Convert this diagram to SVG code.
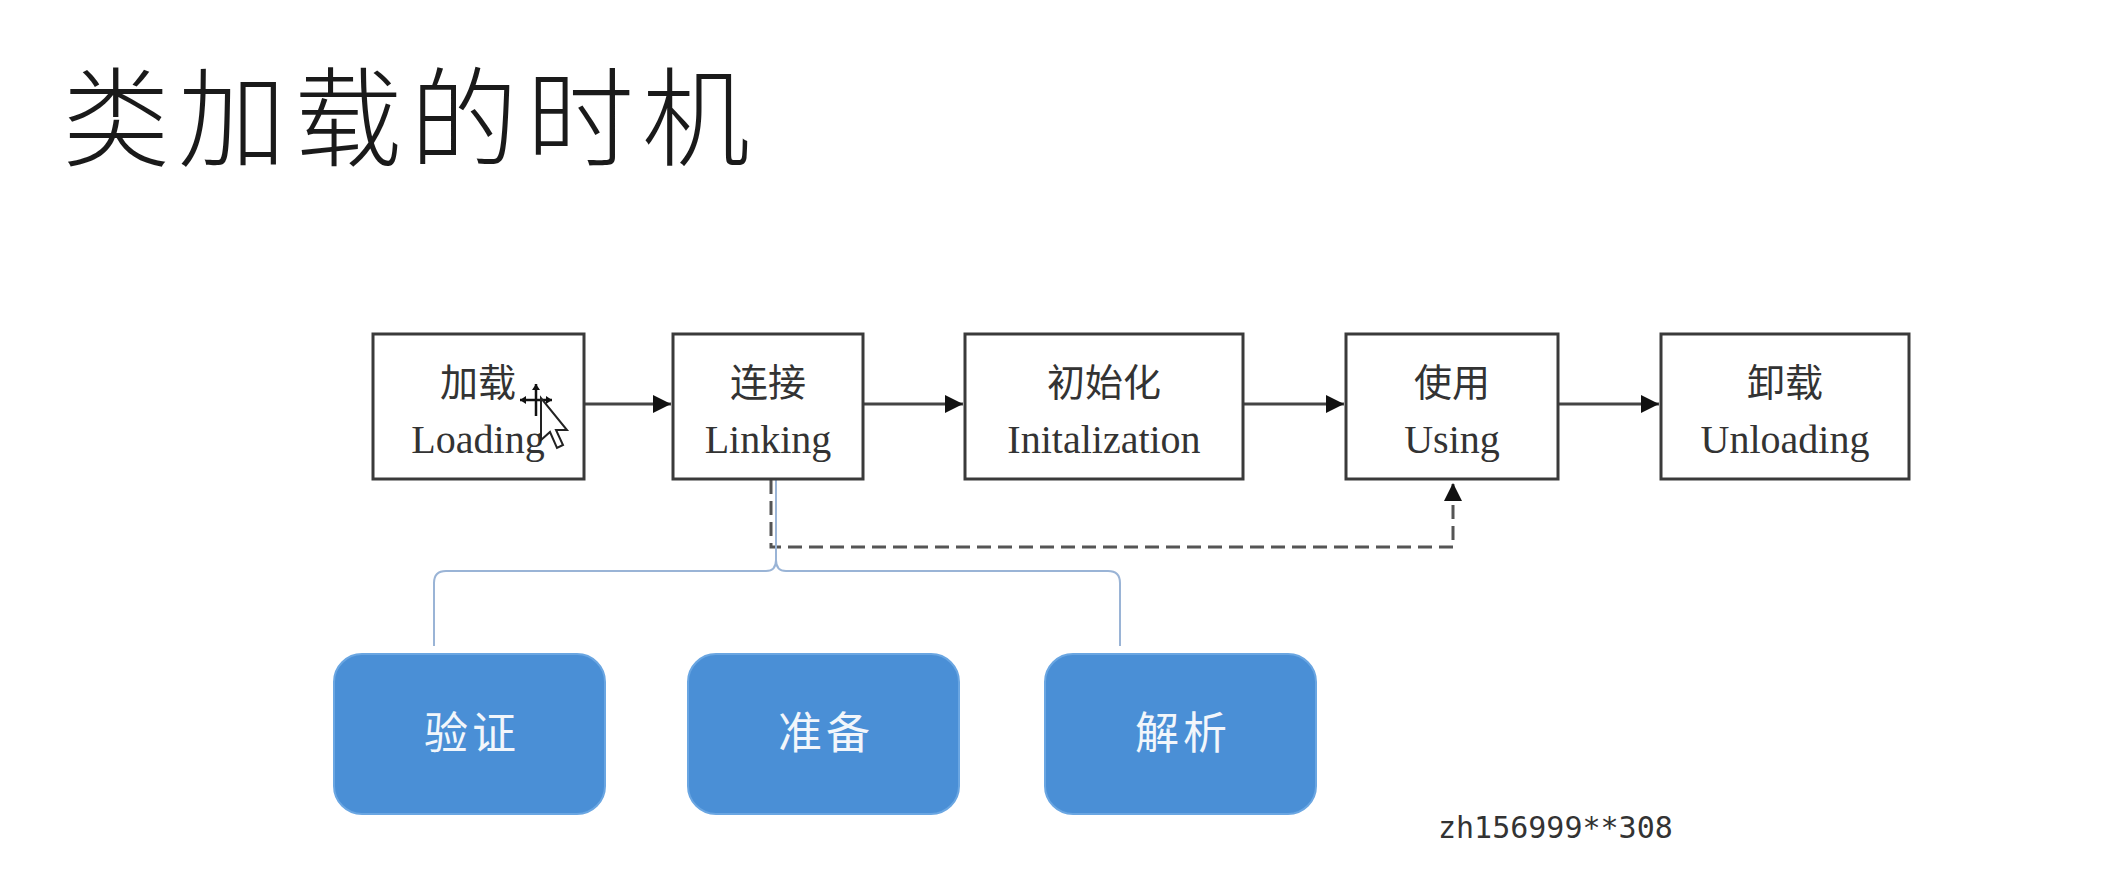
<svg xmlns="http://www.w3.org/2000/svg" width="2128" height="890" viewBox="0 0 2128 890">
<style>
.box{fill:#ffffff;stroke:#3a3a3a;stroke-width:3}
.cn{font-family:"Noto Sans CJK SC","Noto Sans CJK JP",sans-serif;font-size:38px;fill:#333;text-anchor:middle}
.en{font-family:"Liberation Serif","DejaVu Serif",serif;font-size:40px;fill:#333;text-anchor:middle}
.blue{fill:#4a8fd6;stroke:#6aa6e2;stroke-width:2}
.bt{font-family:"Noto Sans CJK SC","Noto Sans CJK JP",sans-serif;font-size:44px;fill:#f2f6fb;text-anchor:middle;letter-spacing:4px}
.arr{stroke:#444;stroke-width:3;fill:none}
.dash{stroke:#555;stroke-width:3;fill:none;stroke-dasharray:14 7}
.brace{stroke:#9ab4d6;stroke-width:2;fill:none}
</style>
<defs>
<marker id="ah" viewBox="0 0 10 10" refX="10" refY="5" markerWidth="6" markerHeight="6" orient="auto" markerUnits="strokeWidth">
<path d="M0,0 L10,5 L0,10 z" fill="#111"/>
</marker>
</defs>
<rect width="2128" height="890" fill="#ffffff"/>
<text x="62" y="158" font-family="Noto Sans CJK SC, Noto Sans CJK JP, sans-serif" font-size="108" font-weight="300" letter-spacing="8" fill="#1a1a1a">类加载的时机</text>

<g id="connectors">
<line class="arr" x1="584" y1="404" x2="671" y2="404" marker-end="url(#ah)"/>
<line class="arr" x1="863" y1="404" x2="963" y2="404" marker-end="url(#ah)"/>
<line class="arr" x1="1243" y1="404" x2="1344" y2="404" marker-end="url(#ah)"/>
<line class="arr" x1="1558" y1="404" x2="1659" y2="404" marker-end="url(#ah)"/>
<path class="dash" d="M771,480 V547 H1453 V483" marker-end="url(#ah)"/>
<path class="brace" d="M776,480 V560 Q776,571 766,571 H446 Q434,571 434,583 V646"/>
<path class="brace" d="M776,560 Q776,571 786,571 H1108 Q1120,571 1120,583 V646"/>
</g>

<g id="loading">
<rect class="box" x="373" y="334" width="211" height="145"/>
<text class="cn" x="478" y="396">加载</text>
<text class="en" x="478" y="453">Loading</text>
</g>
<g id="linking">
<rect class="box" x="673" y="334" width="190" height="145"/>
<text class="cn" x="768" y="396">连接</text>
<text class="en" x="768" y="453">Linking</text>
</g>
<g id="init">
<rect class="box" x="965" y="334" width="278" height="145"/>
<text class="cn" x="1104" y="396">初始化</text>
<text class="en" x="1104" y="453">Initalization</text>
</g>
<g id="using">
<rect class="box" x="1346" y="334" width="212" height="145"/>
<text class="cn" x="1452" y="396">使用</text>
<text class="en" x="1452" y="453">Using</text>
</g>
<g id="unloading">
<rect class="box" x="1661" y="334" width="248" height="145"/>
<text class="cn" x="1785" y="396">卸载</text>
<text class="en" x="1785" y="453">Unloading</text>
</g>

<g id="verify">
<rect class="blue" x="334" y="654" width="271" height="160" rx="28"/>
<text class="bt" x="472" y="749">验证</text>
</g>
<g id="prepare">
<rect class="blue" x="688" y="654" width="271" height="160" rx="28"/>
<text class="bt" x="826" y="749">准备</text>
</g>
<g id="resolve">
<rect class="blue" x="1045" y="654" width="271" height="160" rx="28"/>
<text class="bt" x="1183" y="749">解析</text>
</g>

<g id="cursor">
<path d="M520,400 H552 M536,384 V416" stroke="#111" stroke-width="2.5"/>
<path d="M520,400 l6,-4 v8 z M552,400 l-6,-4 v8 z M536,384 l-4,6 h8 z" fill="#111"/>
<path d="M541,398 L541,440 L550,432 L557,448 L563,445 L556,430 L567,430 Z" fill="#fff" stroke="#222" stroke-width="2"/>
</g>

<text x="1438" y="838" font-family="DejaVu Sans Mono, Liberation Mono, monospace" font-size="30" fill="#333">zh156999**308</text>
</svg>
